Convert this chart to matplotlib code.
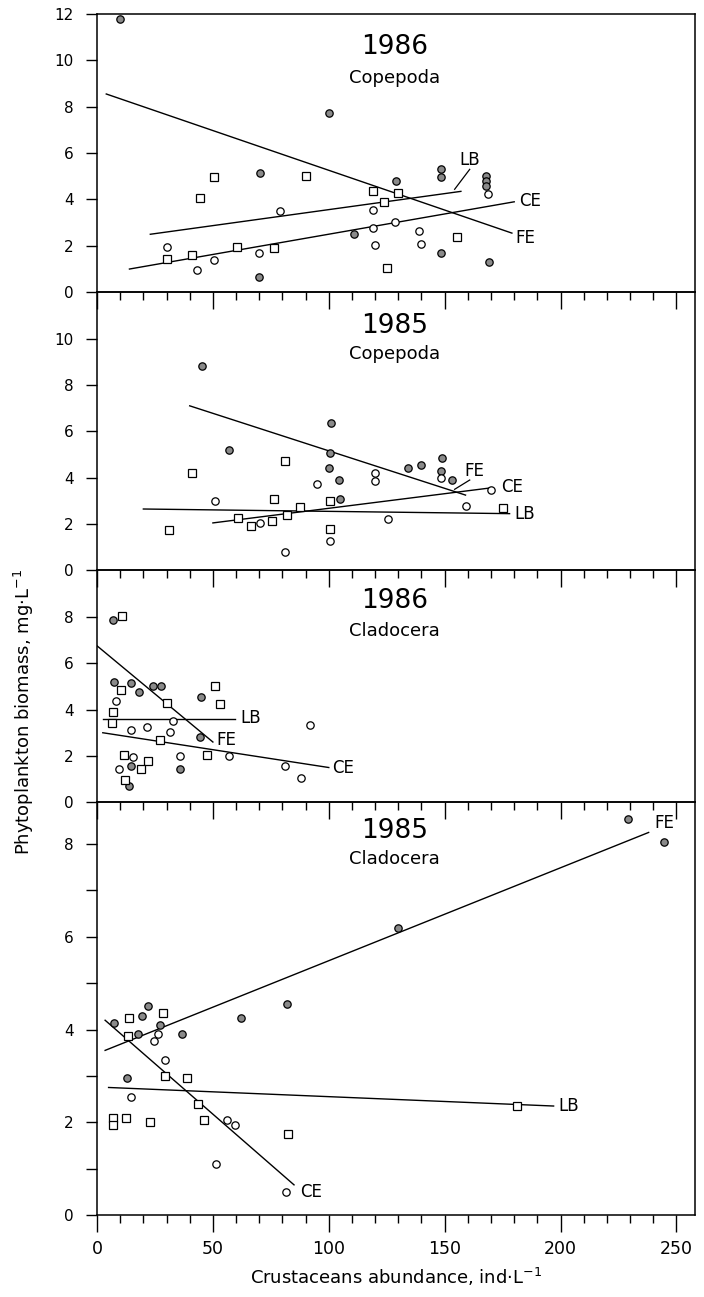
import numpy as np
import matplotlib
matplotlib.use("Agg")
import matplotlib.pyplot as plt
from matplotlib.ticker import MultipleLocator

# ---- data ----
# panel 1: 1986 Copepoda
p1_fe_x = [10, 100, 70.5, 129, 148.5, 148.5, 168, 168, 168, 111, 148.5, 169, 70]
p1_fe_y = [11.8, 7.75, 5.15, 4.8, 5.3, 4.95, 5.0, 4.8, 4.6, 2.5, 1.7, 1.3, 0.65]
p1_ce_x = [30, 43, 50.5, 70, 79, 119, 119, 120, 128.5, 139, 140, 168.5]
p1_ce_y = [1.95, 0.95, 1.4, 1.7, 3.5, 3.55, 2.75, 2.05, 3.05, 2.65, 2.1, 4.25]
p1_lb_x = [30, 41, 44.5, 50.5, 60.5, 76.5, 90, 119, 124, 130, 125, 155.5]
p1_lb_y = [1.45, 1.6, 4.05, 4.95, 1.95, 1.9, 5.0, 4.35, 3.9, 4.3, 1.05, 2.4]
p1_fe_line_x = [4, 179]
p1_fe_line_y = [8.55, 2.55]
p1_ce_line_x = [14, 180]
p1_ce_line_y = [1.0, 3.9]
p1_lb_line_x = [23, 157]
p1_lb_line_y = [2.5, 4.35]

# panel 2: 1985 Copepoda
p2_fe_x = [45.5, 57, 101, 100.5, 100, 104.5, 105, 134, 140, 149, 148.5, 153]
p2_fe_y = [8.8, 5.2, 6.35, 5.05, 4.4, 3.9, 3.1, 4.4, 4.55, 4.85, 4.3, 3.9]
p2_ce_x = [51, 70.5, 81, 95, 100.5, 120, 120, 148.5, 125.5, 159, 170]
p2_ce_y = [3.0, 2.05, 0.8, 3.75, 1.25, 4.2, 3.85, 4.0, 2.2, 2.8, 3.45]
p2_lb_x = [31, 41, 61, 66.5, 75.5, 76.5, 81, 82, 87.5, 100.5, 100.5, 175]
p2_lb_y = [1.75, 4.2, 2.25, 1.9, 2.15, 3.1, 4.7, 2.4, 2.75, 3.0, 1.8, 2.7]
p2_fe_line_x = [40, 159]
p2_fe_line_y = [7.1, 3.25]
p2_ce_line_x = [50, 169]
p2_ce_line_y = [2.05, 3.55]
p2_lb_line_x = [20, 178]
p2_lb_line_y = [2.65, 2.45]

# panel 3: 1986 Cladocera
p3_fe_x = [7, 7.5, 14.5, 18, 24, 27.5, 45, 44.5, 14.5, 36, 14]
p3_fe_y = [7.85, 5.2, 5.15, 4.75, 5.0, 5.0, 4.55, 2.8, 1.55, 1.45, 0.7]
p3_ce_x = [8, 33, 14.5, 21.5, 31.5, 15.5, 9.5, 36, 57, 81, 88, 92]
p3_ce_y = [4.35, 3.5, 3.1, 3.25, 3.05, 1.95, 1.45, 2.0, 2.0, 1.55, 1.05, 3.35]
p3_lb_x = [11, 10.5, 7, 6.5, 30, 51, 53, 27, 47.5, 11.5, 22, 19, 12]
p3_lb_y = [8.05, 4.85, 3.9, 3.4, 4.3, 5.0, 4.25, 2.7, 2.05, 2.05, 1.8, 1.45, 0.95]
p3_fe_line_x = [0, 50]
p3_fe_line_y = [6.75, 2.6]
p3_ce_line_x = [2.5, 100]
p3_ce_line_y = [3.0, 1.5]
p3_lb_line_x = [2.5, 59.5]
p3_lb_line_y = [3.6, 3.6]

# panel 4: 1985 Cladocera
p4_fe_x = [7.5, 19.5, 22, 27, 17.5, 36.5, 62, 82, 130, 13, 229, 244.5]
p4_fe_y = [4.15, 4.3, 4.5, 4.1, 3.9, 3.9, 4.25, 4.55, 6.2, 2.95, 8.55, 8.05]
p4_ce_x = [26.5, 24.5, 29.5, 14.5, 56, 59.5, 51.5, 81.5]
p4_ce_y = [3.9, 3.75, 3.35, 2.55, 2.05, 1.95, 1.1, 0.5]
p4_lb_x = [14, 28.5, 13.5, 29.5, 39, 43.5, 46, 7, 7, 12.5, 23, 82.5, 181]
p4_lb_y = [4.25, 4.35, 3.85, 3.0, 2.95, 2.4, 2.05, 2.1, 1.95, 2.1, 2.0, 1.75, 2.35]
p4_fe_line_x = [3.5, 238]
p4_fe_line_y = [3.55, 8.25]
p4_ce_line_x = [3.5, 85]
p4_ce_line_y = [4.2, 0.65]
p4_lb_line_x = [5, 197]
p4_lb_line_y = [2.75, 2.35]

years = ["1986", "1985", "1986", "1985"]
groups = ["Copepoda", "Copepoda", "Cladocera", "Cladocera"]

plt.rcParams['font.family'] = ['DejaVu Sans']

fig, axes = plt.subplots(4, 1, figsize=(7.04, 12.97), dpi=100, sharex=True,
                         gridspec_kw={'height_ratios': [12, 12, 10, 17.8], 'hspace': 0})
fig.subplots_adjust(left=97/704, right=695/704, top=1-14/1297, bottom=1-1215/1297)

panels = [
    (p1_fe_x, p1_fe_y, p1_ce_x, p1_ce_y, p1_lb_x, p1_lb_y,
     p1_fe_line_x, p1_fe_line_y, p1_ce_line_x, p1_ce_line_y, p1_lb_line_x, p1_lb_line_y),
    (p2_fe_x, p2_fe_y, p2_ce_x, p2_ce_y, p2_lb_x, p2_lb_y,
     p2_fe_line_x, p2_fe_line_y, p2_ce_line_x, p2_ce_line_y, p2_lb_line_x, p2_lb_line_y),
    (p3_fe_x, p3_fe_y, p3_ce_x, p3_ce_y, p3_lb_x, p3_lb_y,
     p3_fe_line_x, p3_fe_line_y, p3_ce_line_x, p3_ce_line_y, p3_lb_line_x, p3_lb_line_y),
    (p4_fe_x, p4_fe_y, p4_ce_x, p4_ce_y, p4_lb_x, p4_lb_y,
     p4_fe_line_x, p4_fe_line_y, p4_ce_line_x, p4_ce_line_y, p4_lb_line_x, p4_lb_line_y),
]

ms = 5.3
for ax, d in zip(axes, panels):
    fx, fy, cx, cy, lx, ly, flx, fly, clx, cly, llx, lly = d
    # transparent background so the ticks of the panel above show through
    ax.patch.set_visible(False)
    ax.plot(flx, fly, color='black', lw=1.0, zorder=2)
    ax.plot(clx, cly, color='black', lw=1.0, zorder=2)
    ax.plot(llx, lly, color='black', lw=1.0, zorder=2)
    ax.plot(fx, fy, 'o', ms=ms, mfc='#8a8a8a', mec='black', mew=0.9, zorder=3)
    ax.plot(cx, cy, 'o', ms=ms, mfc='white', mec='black', mew=0.9, zorder=3)
    ax.plot(lx, ly, 's', ms=ms, mfc='white', mec='black', mew=0.9, zorder=3)
    for s in ax.spines.values():
        s.set_linewidth(1.1)

ylims = [12, 12, 10, 8.9]
yticks = [np.arange(0, 13, 2), np.arange(0, 11, 2), np.arange(0, 9, 2), np.arange(0, 9, 2)]
year_y = [0.883, 0.88, 0.87, 0.93]
group_y = [0.77, 0.779, 0.739, 0.862]
for i, ax in enumerate(axes):
    ax.set_ylim(0, ylims[i])
    ax.set_yticks(yticks[i])
    ax.set_xlim(0, 258)
    ax.xaxis.set_major_locator(MultipleLocator(50))
    ax.xaxis.set_minor_locator(MultipleLocator(10))
    ax.tick_params(axis='y', direction='out', length=8, width=1, labelsize=11, pad=9)
    ax.tick_params(axis='x', which='major', direction='out', length=12, width=1, labelsize=12.5, pad=6)
    ax.tick_params(axis='x', which='minor', direction='out', length=5.5, width=1)
    ax.text(0.498, year_y[i], years[i], transform=ax.transAxes, ha='center', va='center', fontsize=19)
    ax.text(0.498, group_y[i], groups[i], transform=ax.transAxes, ha='center', va='center', fontsize=13)

axes[3].yaxis.set_minor_locator(MultipleLocator(1))
axes[3].tick_params(axis='y', which='minor', direction='out', length=8, width=1)

# line labels
lab = dict(fontsize=12, va='center', ha='left')
axes[0].text(182, 3.95, "CE", **lab)
axes[0].text(180.5, 2.35, "FE", **lab)
axes[0].text(156.5, 5.7, "LB", **lab)
axes[0].plot([154.3, 160.8], [4.44, 5.3], color='black', lw=0.9)
axes[1].text(158.6, 4.28, "FE", **lab)
axes[1].plot([154.3, 160.8], [3.5, 3.9], color='black', lw=0.9)
axes[1].text(174.5, 3.6, "CE", **lab)
axes[1].text(180, 2.45, "LB", **lab)
axes[2].text(62, 3.65, "LB", **lab)
axes[2].text(51.5, 2.7, "FE", **lab)
axes[2].text(101.5, 1.5, "CE", **lab)
axes[3].text(240.5, 8.45, "FE", **lab)
axes[3].text(87.5, 0.5, "CE", **lab)
axes[3].text(199, 2.35, "LB", **lab)

axes[3].set_xlabel("Crustaceans abundance, ind$\\cdot$L$^{-1}$", fontsize=13, labelpad=6)
fig.text(0.034, 0.451, "Phytoplankton biomass, mg$\\cdot$L$^{-1}$", rotation=90,
         ha='center', va='center', fontsize=13)

fig.savefig("out.png", dpi=100, facecolor='white')
